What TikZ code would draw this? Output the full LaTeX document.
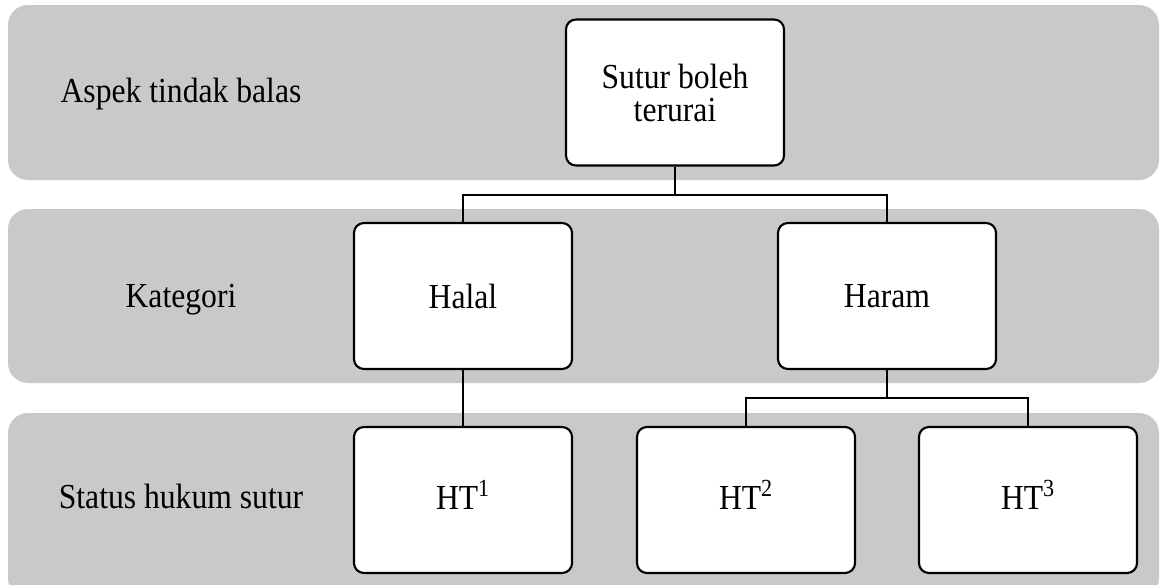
\documentclass[tikz,border=0pt]{standalone}
\usepackage{fontspec}
\setmainfont{Liberation Serif}[FakeStretch=0.9]
\usetikzlibrary{positioning}
\definecolor{bandgray}{RGB}{201,201,201}
\begin{document}
\begin{tikzpicture}[x=0.025cm,y=-0.025cm,
  band/.style={fill=bandgray,rounded corners=0.5cm},
  box/.style={draw,line width=1.5pt,fill=white,rounded corners=0.25cm,
    minimum width=5.45cm,minimum height=3.65cm,inner sep=0pt,align=center,
    font=\fontsize{25}{23.5}\selectfont},
  htbox/.style={box,text height=13pt,text depth=0pt},
  lbl/.style={anchor=base,font=\fontsize{25}{23.5}\selectfont},
  link/.style={line width=1.5pt}]
\useasboundingbox (0,0) rectangle (1160,585);
\clip (0,0) rectangle (1160,585);
% bands
\fill[band] (8,5) rectangle (1159,180);
\fill[band] (8,209) rectangle (1159,383);
\fill[band] (8,413) rectangle (1159,598);
\node[lbl] (aspek) at (181,102) {Aspek tindak balas};
\node[lbl] (kategori) at (181,307) {Kategori};
\node[lbl] (status) at (181,508) {Status hukum sutur};
% boxes
\node[box] (sutur) at (675,92.5) {Sutur boleh\\terurai};
\node[box] (halal) at (463,296) {Halal};
\node[box] (haram) at (887,296) {Haram};
\node[htbox] (ht1) at (463,500) {HT\textsuperscript{1}};
\node[htbox] (ht2) at (746,500) {HT\textsuperscript{2}};
\node[htbox] (ht3) at (1028,500) {HT\textsuperscript{3}};
% connectors
\coordinate (j1) at (675,195);
\coordinate (j2) at (887,398);
\draw[link] (sutur.south) -- (j1);
\draw[link] (j1) -| (halal.north);
\draw[link] (j1) -| (haram.north);
\draw[link] (halal.south) -- (ht1.north);
\draw[link] (haram.south) -- (j2);
\draw[link] (j2) -| (ht2.north);
\draw[link] (j2) -| (ht3.north);
\end{tikzpicture}
\end{document}
